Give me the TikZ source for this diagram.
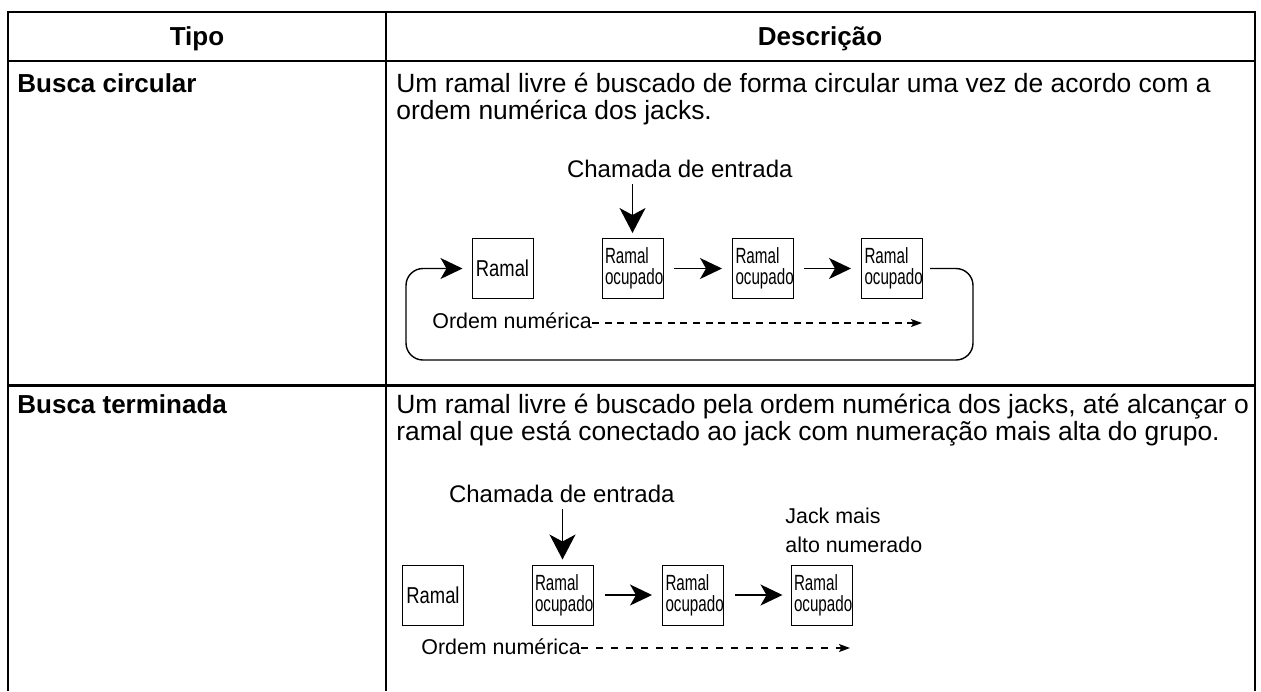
\documentclass[tikz,border=0pt]{standalone}
\usepackage{fontspec}
\setmainfont{Liberation Sans}
\newfontfamily\narrowfont[FakeStretch=0.69]{Liberation Sans}
\newfontfamily\semifont[FakeStretch=0.8]{Liberation Sans}
\usetikzlibrary{arrows.meta}

\begin{document}
\begin{tikzpicture}[x=0.5pt, y=-0.5pt,
    rule/.style={draw=black, line width=1.1pt},
    head/.style={font=\bfseries\fontsize{13}{13}\selectfont, inner sep=0pt, anchor=base},
    kind/.style={font=\bfseries\fontsize{13}{13}\selectfont, inner sep=0pt, anchor=base west},
    body/.style={font=\fontsize{13.2}{13.5}\selectfont, align=left, inner sep=0pt, anchor=base west},
    call/.style={font=\fontsize{12}{12}\selectfont, anchor=base west},
    note/.style={font=\fontsize{10.7}{14.5}\selectfont, align=left, inner sep=0pt, anchor=base west},
    ramal/.style={rectangle, draw, line width=0.5pt, minimum width=30.5pt, minimum height=30pt,
      inner sep=0pt, font=\semifont\fontsize{11.5}{11.5}\selectfont},
    busy/.style={rectangle, draw, line width=0.5pt, minimum width=30.5pt, minimum height=30pt,
      inner xsep=1.5pt, inner ysep=0pt, text width=27.5pt, align=left,
      font=\narrowfont\fontsize{11}{10.5}\selectfont},
    flow/.style={line width=0.7pt, -{Stealth[length=11pt, width=10.5pt, inset=3pt]}},
    drop/.style={line width=0.7pt, -{Stealth[length=12.5pt, width=13pt, inset=3.5pt]}},
    order/.style={line width=0.7pt, dash pattern=on 3.5pt off 2.8pt,
      -{Stealth[length=5.5pt, width=4pt, inset=1.2pt]}}
  ]
    \useasboundingbox (0,0) rectangle (1261,691);

    % Tabela
    \draw[rule] (8,691) |- (1255,12) -- (1255,691);
    \draw[rule] (8,61) -- (1255,61);
    \draw[rule] (8,385.5) -- (1255,385.5);
    \draw[rule] (386,12) -- (386,691);

    % Cabeçalho
    \node[head] (tipo) at (197,45) {Tipo};
    \node[head] (descr) at (820,45) {Descrição};

    % Busca circular
    \node[kind] (circ) at (17,92) {Busca circular};
    \node[body] (desc1) at (396,119) {Um ramal livre é buscado de forma circular uma vez de acordo com a\\ordem numérica dos jacks.};

    \node[call] (call1) at (560,177) {Chamada de entrada};
    \node[ramal] (b1) at (502.5,268.5) {Ramal};
    \node[busy] (b2) at (632.5,268.5) {Ramal\\ocupado};
    \node[busy] (b3) at (763,268.5) {Ramal\\ocupado};
    \node[busy] (b4) at (892,268.5) {Ramal\\ocupado};
    \node[note] (ord1) at (432,328.5) {Ordem numérica};
    \coordinate (ordend1) at (922,323);
    \coordinate (loopse) at (973,360);
    \coordinate (loopsw) at (406,360);

    \draw[drop] (b2.north |- call1.south) -- ([yshift=2.5pt]b2.north);
    \draw[flow, shorten <=5pt, shorten >=5pt] (b2) -- (b3);
    \draw[flow, shorten <=5pt, shorten >=5pt] (b3) -- (b4);
    \draw[flow, rounded corners=8.5pt] ([xshift=3.5pt]b4.east) -| (loopse) -- (loopsw) |- ([xshift=-4.5pt]b1.west);
    \draw[order] (ord1.base east |- ordend1) -- (ordend1);

    % Busca terminada
    \node[kind] (term) at (17,413) {Busca terminada};
    \node[body] (desc2) at (396,440) {Um ramal livre é buscado pela ordem numérica dos jacks, até alcançar o\\ramal que está conectado ao jack com numeração mais alta do grupo.};

    \node[call] (call2) at (442,502) {Chamada de entrada};
    \node[note] (jack) at (785,552) {Jack mais\\alto numerado};
    \node[ramal] (c1) at (433,595) {Ramal};
    \node[busy] (c2) at (562.5,595) {Ramal\\ocupado};
    \node[busy] (c3) at (693,595) {Ramal\\ocupado};
    \node[busy] (c4) at (821.5,595) {Ramal\\ocupado};
    \node[note] (ord2) at (421,654) {Ordem numérica};
    \coordinate (ordend2) at (850,648);

    \draw[drop] (c2.north |- call2.south) -- ([yshift=2.5pt]c2.north);
    \draw[flow, shorten <=5.5pt, shorten >=5pt] (c2) -- (c3);
    \draw[flow, shorten <=5.5pt, shorten >=4pt] (c3) -- (c4);
    \draw[order, dash pattern=on 3.5pt off 4pt] (ord2.base east |- ordend2) -- (ordend2);
  \end{tikzpicture}
\end{document}
